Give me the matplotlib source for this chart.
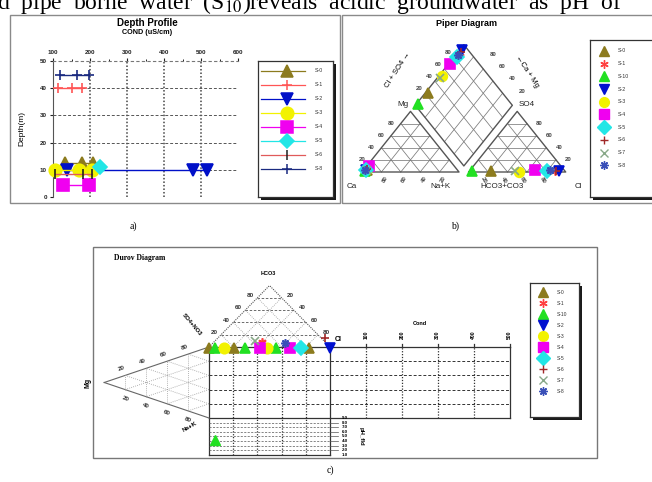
import numpy as np
import matplotlib
matplotlib.use("Agg")
import matplotlib.pyplot as plt
from matplotlib.patches import Rectangle

plt.rcParams["mathtext.fontset"] = "stix"

W, H = 652, 482
H3 = np.sqrt(3) / 2
GAP = 0.1

# ---------------- data ----------------
SAMPLES = ["S-0", "S-1", "S-10", "S-2", "S-3", "S-4", "S-5", "S-6", "S-7", "S-8"]
COLORS = ["#8C7B1E", "#FF4040", "#22E022", "#0010D0", "#F2F200", "#F000F0",
          "#22E6E6", "#A02828", "#88A888", "#3A50B8"]
MARKERS = ["^", (6, 2, 0), "^", "v", "o", "s", "D", "+", "x", (8, 2, 0)]

# (a) depth profile
DEPTH_SAMPLES = ["S-0", "S-1", "S-2", "S-3", "S-4", "S-5", "S-6", "S-8"]
DEPTH_COLORS = ["#8C7B1E", "#FF5555", "#0010C8", "#F2F200", "#F000F0", "#22E6E6",
                "#E05A5A", "#1A2A80"]
DEPTH_MARKERS = ["^", "+", "v", "o", "s", "D", "|", "+"]
COND = [[132, 178, 208], [113, 151, 178], [138, 478, 515], [106, 170, 206],
        [127, 197], [226], [105, 182, 205], [118, 165, 196]]
DEPTH = [[12.5, 12.5, 12.5], [40, 40, 40], [10, 10, 10], [10, 10, 10],
         [4.3, 4.3], [11], [8.5, 8.5, 8.5], [45, 45, 45]]
COND_TICKS = [100, 200, 300, 400, 500, 600]
DEPTH_TICKS = [0, 10, 20, 30, 40, 50]

# (b) Piper: cations and anions (%)
CA = [93, 91, 96, 94, 92, 88, 94, 92, 93, 95]
MG = [4, 6, 2, 3, 5, 10, 3, 5, 4, 3]
NAK = [3, 3, 2, 3, 3, 2, 3, 3, 3, 2]
HCO3 = [77, 10, 96, 6, 48, 30, 18, 9, 52, 15]
SO4 = [1, 2, 1, 2, 0, 3, 2, 1, 1, 3]
CL = [22, 88, 3, 92, 52, 67, 80, 90, 47, 82]
PIPER_TICKS = [20, 40, 60, 80]

# (c) Durov: positions in the square (%), pH and cond axes
DUROV_X = [[0, 21, 83], [44], [5, 30, 55], [100], [12, 48], [42, 67], [76], [96], [38], [63]]
DUROV_Y = [[99, 99, 99], [107], [99, 99, 99], [99], [98, 98], [98, 98], [99], [112], [108], [105]]
PH_SAMPLES = ["S-10"]
PH_X = [5]
PH_VALUES = [4.2]
PH_TICKS = [1, 2, 3, 4, 5, 6, 7, 8, 9]
DCOND_TICKS = [100, 200, 300, 400, 500]
DCOND_MAX = 500

fig = plt.figure(figsize=(W / 100, H / 100), dpi=100)
SANS = "Liberation Sans"
SERIF = "Liberation Serif"


def px_axes(x0, y0, x1, y1):
    return fig.add_axes([x0 / W, 1 - y1 / H, (x1 - x0) / W, (y1 - y0) / H])


def ftext(x, y, s, **kw):
    kw.setdefault("ha", "center")
    kw.setdefault("va", "center")
    return fig.text(x / W, 1 - y / H, s, **kw)


def frame(x0, y0, x1, y1, ec="#8a8a8a", lw=1.0):
    fig.add_artist(Rectangle((x0 / W, 1 - y1 / H), (x1 - x0) / W, (y1 - y0) / H,
                             transform=fig.transFigure, fill=False, ec=ec, lw=lw))


def legend_axes(x0, y0, x1, y1):
    fig.add_artist(Rectangle(((x0 + 3) / W, 1 - (y1 + 3) / H), (x1 - x0) / W, (y1 - y0) / H,
                             transform=fig.transFigure, fc="#1a1a1a", ec="none", zorder=-1))
    lax = px_axes(x0, y0, x1, y1)
    lax.set_xlim(x0, x1)
    lax.set_ylim(y1, y0)
    lax.set_xticks([]); lax.set_yticks([])
    for s in lax.spines.values():
        s.set_color("#333333"); s.set_linewidth(0.9)
    return lax


# top text line (cut by the page edge, as in the source page)
fig.text(-3 / W, 1 - 9 / H,
         "d  pipe  borne  water  (S$_{10}$)reveals  acidic  groundwater  as  pH  of",
         fontsize=17, family=SERIF, va="baseline", ha="left")

# ---------------- (a) depth profile ----------------
frame(10, 15, 340, 203)
ax = px_axes(53, 61, 238, 197)
ax.set_xlim(100, 600)
ax.set_ylim(0, 50)
ax.patch.set_alpha(0)
for xv in COND_TICKS[1:-1]:
    ax.axvline(xv, color="#444444", lw=1.1, ls=(0, (1, 1.3)), zorder=1)
for yv in DEPTH_TICKS[1:-1]:
    ax.axhline(yv, color="#555555", lw=0.7, ls=(0, (3, 2)), zorder=1)
for name, c, m, xs, ys in zip(DEPTH_SAMPLES, DEPTH_COLORS, DEPTH_MARKERS, COND, DEPTH):
    ms = 9 if m in ("^", "v", "o", "s") else 7
    mec = "#1A2A80" if m == "+" and name == "S-8" else ("#202020" if m == "|" else c)
    ax.plot(xs, ys, color=c, lw=1.0, marker=m, ms=ms, mec=mec, mew=1.2, zorder=3, clip_on=False)
ax.xaxis.tick_top()
ax.set_xticks(COND_TICKS)
ax.set_xticks([150, 250, 350, 450, 550], minor=True)
ax.set_yticks(DEPTH_TICKS)
ax.tick_params(labelsize=4.5, length=2.5, width=0.8, pad=2, colors="#222222")
ax.tick_params(which="minor", length=1.5, width=0.6)
for lab in ax.get_xticklabels() + ax.get_yticklabels():
    lab.set_fontweight("bold"); lab.set_family(SANS)
ax.spines["right"].set_visible(False)
ax.spines["bottom"].set_visible(False)
ax.spines["left"].set_color("#555555"); ax.spines["top"].set_color("#777777")
ax.spines["top"].set_linestyle((0, (2, 3)))
ftext(147, 23, "Depth Profile", fontsize=7, fontweight="bold", family=SANS)
ftext(147, 33, "COND (uS/cm)", fontsize=5.2, fontweight="bold", family=SANS)
ftext(22, 129, "Depth(m)", fontsize=6, rotation=90, family=SANS)

lax = legend_axes(258, 61, 333, 197)
for i, (name, c, m) in enumerate(zip(DEPTH_SAMPLES, DEPTH_COLORS, DEPTH_MARKERS)):
    yy = 71 + 14 * i
    ms = 9 if m in ("^", "v", "o", "s") else 7
    mec = "#1A2A80" if name == "S-8" else ("#202020" if m == "|" else c)
    lax.plot([261, 305], [yy, yy], color=c, lw=0.9)
    lax.plot([287], [yy], marker=m, color=c, ms=ms, mec=mec, mew=1.1, lw=0)
    lax.text(315, yy, name, fontsize=3.8, va="center", family=SANS, color="#333333")

ftext(133, 226, "a)", fontsize=7, family=SERIF)

# ---------------- (b) Piper diagram ----------------
frame(342, 15, 670, 203)
pax = px_axes(342, 15, 652, 203)
pax.set_xlim((342 - 362) / 97, (652 - 362) / 97)
pax.set_ylim((172 - 203) / 70, (172 - 15) / 70)
pax.axis("off")


def cat_xy(ca, mg, na):
    t = ca + mg + na
    return (na + mg / 2) / t, mg / t * H3


def an_xy(hco3, so4, cl):
    t = hco3 + so4 + cl
    return 1 + GAP + (cl + so4 / 2) / t, so4 / t * H3


def dia_xy(n, a):
    return (n + 1 + GAP + a) / 2, H3 * (1 + GAP + a - n)


def seg(axx, p, q, **kw):
    axx.plot([p[0], q[0]], [p[1], q[1]], **kw)


grid_kw = dict(color="#7a7a7a", lw=0.55)
edge_kw = dict(color="#555555", lw=1.0)
for k in np.array(PIPER_TICKS) / 100:
    seg(pax, cat_xy(1 - k, k, 0), cat_xy(0, k, 1 - k), **grid_kw)
    seg(pax, cat_xy(1 - k, 0, k), cat_xy(0, 1 - k, k), **grid_kw)
    seg(pax, cat_xy(k, 1 - k, 0), cat_xy(k, 0, 1 - k), **grid_kw)
    seg(pax, an_xy(1 - k, k, 0), an_xy(0, k, 1 - k), **grid_kw)
    seg(pax, an_xy(1 - k, 0, k), an_xy(0, 1 - k, k), **grid_kw)
    seg(pax, an_xy(k, 1 - k, 0), an_xy(k, 0, 1 - k), **grid_kw)
    seg(pax, dia_xy(k, 0), dia_xy(k, 1), **grid_kw)
    seg(pax, dia_xy(0, k), dia_xy(1, k), **grid_kw)
for pts in ([cat_xy(1, 0, 0), cat_xy(0, 0, 1), cat_xy(0, 1, 0), cat_xy(1, 0, 0)],
            [an_xy(1, 0, 0), an_xy(0, 0, 1), an_xy(0, 1, 0), an_xy(1, 0, 0)],
            [dia_xy(0, 0), dia_xy(0, 1), dia_xy(1, 1), dia_xy(1, 0), dia_xy(0, 0)]):
    xs, ys = zip(*pts)
    pax.plot(xs, ys, **edge_kw)

tk = dict(fontsize=4.3, fontweight="bold", family=SANS, color="#444444", ha="center", va="center")
for v in PIPER_TICKS:
    k = v / 100
    x, y = cat_xy(1 - k, k, 0); pax.text(x - 0.1, y, str(v), **tk)
    x, y = cat_xy(1 - k, 0, k); pax.text(x + 0.04, y - 0.11, str(100 - v), rotation=60, **tk)
    x, y = an_xy(0, k, 1 - k); pax.text(x + 0.13, y, str(v), **tk)
    x, y = an_xy(1 - k, 0, k); pax.text(x - 0.04, y - 0.11, str(v), rotation=-60, **tk)
    x, y = dia_xy(0, k); pax.text(x - 0.06, y + 0.06, str(v), **tk)
    x, y = dia_xy(1 - k, 1); pax.text(x + 0.2, y + 0.03, str(v), **tk)

lab = dict(fontsize=5.8, family=SANS, color="#222222", ha="center", va="center")
ftext(466, 24, "Piper Diagram", fontsize=6.5, fontweight="bold", family=SANS)
ftext(352, 186, "Ca", **lab)
ftext(440, 186, "Na+K", **lab)
ftext(502, 186, "HCO3+CO3", **lab)
ftext(578, 186, "Cl", **lab)
ftext(403, 104, "Mg", **lab)
ftext(527, 104, "SO4", **lab)
ftext(398, 70, "Cl + SO4 \u2192", fontsize=5.5, family=SANS, rotation=57)
ftext(527, 72, "\u2190Ca + Mg", fontsize=5.5, family=SANS, rotation=-57)

for i, name in enumerate(SAMPLES):
    c, m = COLORS[i], MARKERS[i]
    ms = 7 if m in ("^", "v", "o", "s", "D") else 6
    cx, cy = cat_xy(CA[i], MG[i], NAK[i])
    ax_, ay_ = an_xy(HCO3[i], SO4[i], CL[i])
    tot_c = CA[i] + MG[i] + NAK[i]
    tot_a = HCO3[i] + SO4[i] + CL[i]
    dx, dy = dia_xy(NAK[i] / tot_c, (CL[i] + SO4[i]) / tot_a)
    pax.plot([cx, ax_, dx], [cy, ay_, dy], ls="none", marker=m, color=c, ms=ms,
             mew=1.2, zorder=4, clip_on=False)

lb = legend_axes(590, 40, 665, 197)
for i, (name, c, m) in enumerate(zip(SAMPLES, COLORS, MARKERS)):
    yy = 51 + 12.7 * i
    ms = 7 if m in ("^", "v", "o", "s", "D") else 6
    lb.plot([604], [yy], marker=m, color=c, ms=ms, mew=1.0, lw=0)
    lb.text(618, yy, name, fontsize=3.8, va="center", family=SANS, color="#333333")

ftext(455, 226, "b)", fontsize=7, family=SERIF)

# ---------------- (c) Durov diagram ----------------
frame(93, 247, 597, 458, ec="#777777")
dax = px_axes(93, 247, 597, 458)
dax.set_xlim((93 - 209) / 121, (597 - 209) / 121)
dax.set_ylim((418 - 458) / 71, (418 - 247) / 71)
dax.axis("off")

UMAX = 1 + DCOND_MAX * 0.00297          # right end of the cond panel
PH_BOT = -0.52                          # bottom of the pH panel
ph_v = lambda p: PH_BOT * (max(PH_TICKS) - p) / (max(PH_TICKS) - min(PH_TICKS))
cond_u = lambda c: 1 + c * 0.00297

dot_kw = dict(color="#9a9a9a", lw=0.6, ls=(0, (1, 1.5)))
dash_kw = dict(color="#333333", lw=0.7, ls=(0, (3, 2)))
solid = dict(color="#333333", lw=0.9)

# main square + cond + pH boxes
seg(dax, (0, 1), (UMAX, 1), **solid)
seg(dax, (0, 0), (UMAX, 0), **solid)
seg(dax, (0, PH_BOT), (0, 1), **solid)
seg(dax, (1, PH_BOT), (1, 1), **solid)
seg(dax, (UMAX, 0), (UMAX, 1), **solid)
seg(dax, (0, PH_BOT), (1, PH_BOT), **solid)
for k in np.array(PIPER_TICKS) / 100:
    seg(dax, (0, k), (UMAX, k), **dash_kw)
    seg(dax, (k, PH_BOT), (k, 1), color="#333333", lw=0.9, ls=(0, (1, 1.3)))
for c in DCOND_TICKS:
    u = cond_u(c)
    if c < DCOND_MAX:
        seg(dax, (u, 0), (u, 1.0), color="#333333", lw=0.9, ls=(0, (1, 1.3)))
    seg(dax, (u, 1), (u, 1.04), **solid)
    dax.text(u, 1.17, str(c), rotation=90, fontsize=3.6, fontweight="bold",
             family=SANS, ha="center", va="center")
dax.text(cond_u(250), 1.33, "Cond", fontsize=4, fontweight="bold", family=SANS,
         ha="center", va="center")
for p in PH_TICKS[1:-1]:
    seg(dax, (0, ph_v(p)), (1, ph_v(p)), color="#555555", lw=0.5, ls=(0, (3, 2)))
    seg(dax, (1, ph_v(p)), (1.07, ph_v(p)), color="#555555", lw=0.5)
for p in PH_TICKS:
    dax.text(1.1, ph_v(p), f"{p:.1f}", fontsize=3.2, fontweight="bold",
             family=SANS, ha="left", va="center")
dax.text(1.26, ph_v(5), "pH_fld", rotation=270, fontsize=4.3, fontweight="bold",
         family=SANS, ha="center", va="center")

# top triangle (anions)
apex = (0.5, 1 + H3)
seg(dax, (0, 1), apex, color="#555555", lw=0.8, ls=(0, (1, 1)))
seg(dax, (1, 1), apex, color="#555555", lw=0.8, ls=(0, (1, 1)))
for k in np.array(PIPER_TICKS) / 100:
    seg(dax, (k / 2, 1 + k * H3), (1 - k / 2, 1 + k * H3), color="#555555", lw=0.6, ls=(0, (3, 2)))
    seg(dax, (k, 1), (k + (1 - k) / 2, 1 + (1 - k) * H3), **dot_kw)
    seg(dax, (k, 1), (k / 2, 1 + k * H3), **dot_kw)
# left triangle (cations)
lap = (-H3, 0.5)
seg(dax, (0, 1), lap, color="#666666", lw=0.8)
seg(dax, (0, 0), lap, color="#666666", lw=0.8)
for k in np.array(PIPER_TICKS) / 100:
    seg(dax, (-k * H3, k / 2), (-k * H3, 1 - k / 2), **dot_kw)
    seg(dax, (0, k), (-k * H3, k / 2), **dot_kw)
    seg(dax, (0, k), (-(1 - k) * H3, k + (1 - k) / 2), **dot_kw)

tkd = dict(fontsize=4.5, fontweight="bold", family=SANS, color="#333333", ha="center", va="center")
for v in PIPER_TICKS:
    k = v / 100
    dax.text(0.5 * k - 0.06, 1 + k * H3 + 0.03, str(v), **tkd)
    t = k
    dax.text(0.5 + 0.5 * t + 0.07, 1 + H3 * (1 - t) + 0.03, str(v), **tkd)
    dax.text(-H3 + t * H3 - 0.03, 0.5 + 0.5 * t + 0.1, str(v), rotation=20, **tkd)
    dax.text(-H3 + t * H3, 0.5 - 0.5 * t - 0.13, str(v), rotation=-20, **tkd)
dax.text(0.49, 2.04, "HCO3", fontsize=4, fontweight="bold", family=SANS, ha="center", va="center")
dax.text(1.07, 1.1, "Cl", fontsize=5, fontweight="bold", family=SANS, ha="center", va="center")
dax.text(-0.14, 1.31, "SO4+NO3", fontsize=4.3, fontweight="bold", family=SANS,
         rotation=-50, ha="center", va="center")
dax.text(-1.0, 0.5, "Mg", fontsize=5, fontweight="bold", family=SANS, rotation=90,
         ha="center", va="center")
dax.text(-0.16, -0.12, "Na+K", fontsize=4.5, fontweight="bold", family=SANS, rotation=30,
         ha="center", va="center")
ftext(140, 258, "Durov Diagram", fontsize=5.5, fontweight="bold", family=SERIF)

for i, name in enumerate(SAMPLES):
    c, m = COLORS[i], MARKERS[i]
    ms = 7.5 if m in ("^", "v", "o", "s", "D") else 6
    dax.plot(np.array(DUROV_X[i]) / 100, np.array(DUROV_Y[i]) / 100, ls="none", marker=m,
             color=c, ms=ms, mew=1.2, zorder=4, clip_on=False)
for name, xv, p in zip(PH_SAMPLES, PH_X, PH_VALUES):
    i = SAMPLES.index(name)
    dax.plot([xv / 100], [ph_v(p)], ls="none", marker=MARKERS[i], color=COLORS[i],
             ms=7.5, zorder=4)

ld = legend_axes(530, 283, 579, 417)
for i, (name, c, m) in enumerate(zip(SAMPLES, COLORS, MARKERS)):
    yy = 292 + 11 * i
    ms = 7 if m in ("^", "v", "o", "s", "D") else 6
    ld.plot([543], [yy], marker=m, color=c, ms=ms, mew=1.0, lw=0)
    ld.text(557, yy, name, fontsize=3.6, va="center", family=SANS, color="#333333")

ftext(330, 470, "c)", fontsize=7, family=SERIF)

fig.savefig("out.png", dpi=100)
